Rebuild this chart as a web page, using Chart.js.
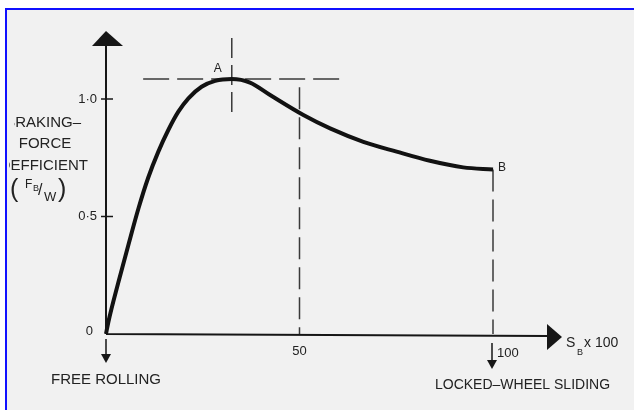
<!DOCTYPE html>
<html lang="en">
<head>
    <meta charset="UTF-8">
    <title>Braking-force coefficient vs slip</title>
    <script src="https://cdn.jsdelivr.net/npm/chart.js"></script>
    <style>
        html, body {
            margin: 0;
            padding: 0;
            background: #fff;
        }
        #wrap {
            width: 634px;
            height: 410px;
        }
    </style>
</head>
<body>
    <div id="wrap"><canvas id="brakeChart"></canvas></div>

    <script>
        // Kurve: Schlupf (S_B x 100) gegen Bremskraftbeiwert F_B/W
        const slip = [0, 0.6, 3.2, 5.8, 8.4, 10.9, 13.5, 16.1, 18.7, 21.3, 24.7, 28.2, 32.5, 37.2, 42.4, 51, 57.9, 66.5, 75.1, 83.7, 92.3, 100];
        const mu = [0, 0.05, 0.22, 0.38, 0.535, 0.665, 0.775, 0.868, 0.946, 1.003, 1.052, 1.077, 1.085, 1.07, 1.017, 0.932, 0.875, 0.818, 0.776, 0.737, 0.709, 0.70];

        const yTicks = [0.5, 1.0];
        const yTickLabels = ['0·5', '1·0'];
        const xTicks = [50, 100];
        const xTickLabels = ['50', '100'];

        // Hilfslinien (gestrichelt), in Datenwerten
        const peakGuideX = [9.6, 61];      // waagerecht durch A
        const peakGuideY = [0.93, 1.26];   // senkrecht durch A
        const midGuideTop = 1.05;          // senkrecht bei 50

        const FONT = '"Liberation Sans", Arial, sans-serif';
        const INK = '#222222';

        function arrowHead(ctx, pts) {
            ctx.beginPath();
            ctx.moveTo(pts[0][0], pts[0][1]);
            ctx.lineTo(pts[1][0], pts[1][1]);
            ctx.lineTo(pts[2][0], pts[2][1]);
            ctx.closePath();
            ctx.fill();
        }

        function dashed(ctx, x1, y1, x2, y2, pattern) {
            ctx.save();
            ctx.setLineDash(pattern);
            ctx.strokeStyle = '#3a3a3a';
            ctx.lineWidth = 1.5;
            ctx.beginPath();
            ctx.moveTo(x1, y1);
            ctx.lineTo(x2, y2);
            ctx.stroke();
            ctx.restore();
        }

        const paperPlugin = {
            id: 'paper',
            beforeDraw(chart) {
                const ctx = chart.ctx;
                ctx.save();
                ctx.fillStyle = '#ffffff';
                ctx.fillRect(0, 0, chart.width, chart.height);
                ctx.fillStyle = '#f1f1f1';
                ctx.fillRect(7, 10, chart.width - 7, chart.height - 10);
                ctx.fillStyle = '#1010ff';
                ctx.fillRect(5, 8, chart.width - 5, 2);
                ctx.fillRect(5, 8, 2, chart.height - 8);
                ctx.restore();
            },
            beforeDatasetsDraw(chart) {
                const ctx = chart.ctx;
                const xs = chart.scales.x, ys = chart.scales.y;
                const x0 = xs.getPixelForValue(0), y0 = ys.getPixelForValue(0);

                // gestrichelte Hilfslinien
                let iPeak = mu.indexOf(Math.max(...mu));
                const pyA = ys.getPixelForValue(mu[iPeak]);
                const pxA = xs.getPixelForValue(slip[iPeak]);
                dashed(ctx, xs.getPixelForValue(peakGuideX[0]), pyA, xs.getPixelForValue(peakGuideX[1]), pyA, [26, 8]);
                dashed(ctx, pxA, ys.getPixelForValue(peakGuideY[1]), pxA, ys.getPixelForValue(peakGuideY[0]), [20, 7]);
                const p50 = xs.getPixelForValue(50);
                dashed(ctx, p50, ys.getPixelForValue(midGuideTop), p50, y0, [22, 8]);
                const p100 = xs.getPixelForValue(100);
                dashed(ctx, p100, ys.getPixelForValue(mu[mu.length - 1]), p100, y0, [22, 8]);

                // Achsen
                ctx.save();
                ctx.strokeStyle = '#161616';
                ctx.fillStyle = '#161616';
                ctx.lineWidth = 2;
                ctx.beginPath();
                ctx.moveTo(x0, y0);
                ctx.lineTo(x0, 44);
                ctx.moveTo(x0, y0);
                ctx.lineTo(548, y0 + 2);
                ctx.stroke();
                arrowHead(ctx, [[x0 - 14, 46], [x0 + 17, 46], [x0, 31]]);
                arrowHead(ctx, [[547, y0 - 10], [547, y0 + 16], [562, y0 + 3]]);

                // Teilstriche y
                ctx.lineWidth = 1.5;
                yTicks.forEach(v => {
                    const py = ys.getPixelForValue(v);
                    ctx.beginPath();
                    ctx.moveTo(x0 - 5, py);
                    ctx.lineTo(x0 + 7, py);
                    ctx.stroke();
                });

                // Pfeile nach unten
                ctx.lineWidth = 1.5;
                ctx.beginPath();
                ctx.moveTo(x0, y0 + 5);
                ctx.lineTo(x0, y0 + 22);
                ctx.moveTo(p100 - 1, y0 + 9);
                ctx.lineTo(p100 - 1, y0 + 28);
                ctx.stroke();
                arrowHead(ctx, [[x0 - 5, y0 + 20], [x0 + 5, y0 + 20], [x0, y0 + 29]]);
                arrowHead(ctx, [[p100 - 6, y0 + 26], [p100 + 4, y0 + 26], [p100 - 1, y0 + 35]]);
                ctx.restore();
            },
            afterDraw(chart) {
                const ctx = chart.ctx;
                const xs = chart.scales.x, ys = chart.scales.y;
                const x0 = xs.getPixelForValue(0), y0 = ys.getPixelForValue(0);
                ctx.save();
                ctx.fillStyle = INK;
                ctx.textBaseline = 'middle';

                // Achsbeschriftung y
                ctx.font = '13px ' + FONT;
                ctx.textAlign = 'right';
                yTicks.forEach((v, i) => {
                    ctx.fillText(yTickLabels[i], x0 - 9, ys.getPixelForValue(v));
                });
                ctx.fillText('0', x0 - 13, y0 - 3);

                // Achsbeschriftung x
                ctx.textAlign = 'center';
                ctx.fillText(xTickLabels[0], xs.getPixelForValue(xTicks[0]), y0 + 17);
                ctx.textAlign = 'left';
                ctx.fillText(xTickLabels[1], xs.getPixelForValue(xTicks[1]) + 4, y0 + 19);

                // S_B x 100
                ctx.font = '14px ' + FONT;
                ctx.fillText('S', 566, y0 + 9);
                ctx.font = '9px ' + FONT;
                ctx.fillText('B', 577, y0 + 19);
                ctx.font = '14px ' + FONT;
                ctx.fillText('x 100', 584, y0 + 9);

                // Punkte A und B
                ctx.font = '12px ' + FONT;
                ctx.textAlign = 'center';
                const iPeak = mu.indexOf(Math.max(...mu));
                ctx.fillText('A', xs.getPixelForValue(slip[iPeak]) - 14, ys.getPixelForValue(mu[iPeak]) - 10);
                ctx.textAlign = 'left';
                ctx.fillText('B', xs.getPixelForValue(100) + 5, ys.getPixelForValue(mu[mu.length - 1]) - 2);

                // untere Beschriftungen
                ctx.font = '15px ' + FONT;
                ctx.fillText('FREE ROLLING', 51, 380);
                ctx.font = '14px ' + FONT;
                ctx.fillText('LOCKED–WHEEL SLIDING', 435, 385);

                // linke Beschriftung (am Rand abgeschnitten)
                ctx.font = '15px ' + FONT;
                ctx.save();
                ctx.beginPath();
                ctx.rect(14, 0, 200, 133);
                ctx.rect(9, 133, 200, 60);
                ctx.clip();
                ctx.textAlign = 'right';
                ctx.fillText('BRAKING–', 81, 123);
                ctx.textAlign = 'center';
                ctx.fillText('FORCE', 45, 144);
                ctx.textAlign = 'right';
                ctx.fillText('COEFFICIENT', 88, 166);
                ctx.restore();

                // (F_B / W)
                ctx.textAlign = 'left';
                ctx.font = '25px ' + FONT;
                ctx.fillText('(', 10, 190);
                ctx.fillText(')', 58, 190);
                ctx.font = '12px ' + FONT;
                ctx.fillText('F', 25, 185);
                ctx.font = '9px ' + FONT;
                ctx.fillText('B', 33, 189);
                ctx.font = '16px ' + FONT;
                ctx.fillText('/', 38, 191);
                ctx.font = '13px ' + FONT;
                ctx.fillText('W', 44, 197);
                ctx.restore();
            }
        };

        function createChart() {
            const ctx = document.getElementById('brakeChart').getContext('2d');
            new Chart(ctx, {
                type: 'line',
                data: {
                    datasets: [{
                        label: 'F_B/W',
                        data: slip.map((s, i) => ({ x: s, y: mu[i] })),
                        borderColor: '#121212',
                        borderWidth: 4,
                        borderCapStyle: 'butt',
                        borderJoinStyle: 'round',
                        cubicInterpolationMode: 'monotone',
                        pointRadius: 0,
                        fill: false,
                        clip: false
                    }]
                },
                options: {
                    responsive: true,
                    maintainAspectRatio: false,
                    animation: false,
                    layout: {
                        padding: { left: 106, right: 141, top: 52, bottom: 76 }
                    },
                    plugins: {
                        legend: { display: false },
                        tooltip: { enabled: false }
                    },
                    scales: {
                        x: { type: 'linear', min: 0, max: 100, display: false },
                        y: { min: 0, max: 1.2, display: false }
                    }
                },
                plugins: [paperPlugin]
            });
        }

        createChart();
    </script>
</body>
</html>
